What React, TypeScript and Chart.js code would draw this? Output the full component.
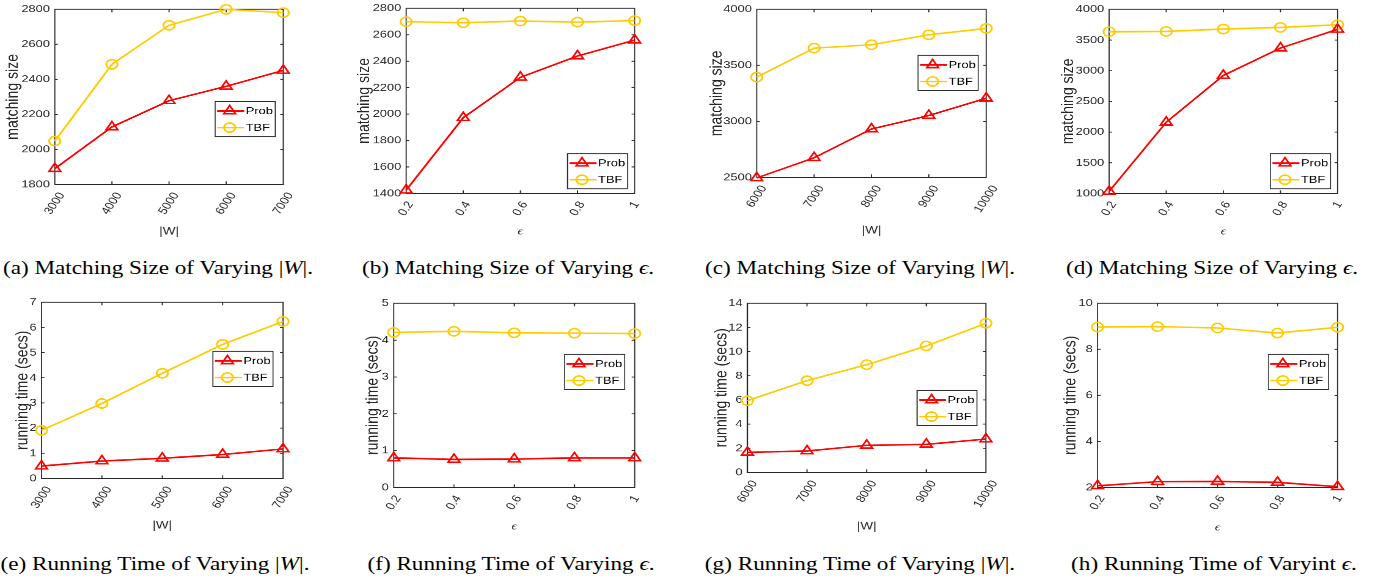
import React, { useEffect, useRef } from 'react';
import { Chart, registerables } from 'chart.js';

Chart.register(...registerables);

// ---------------- data ----------------
const wLabelsSmall = ['3000', '4000', '5000', '6000', '7000'];
const wLabelsLarge = ['6000', '7000', '8000', '9000', '10000'];
const epsLabels = ['0.2', '0.4', '0.6', '0.8', '1'];

const probA = [1890, 2128, 2278, 2360, 2451];
const tbfA = [2048, 2486, 2709, 2800, 2781];
const probB = [1425, 1973, 2278, 2439, 2560];
const tbfB = [2699, 2691, 2704, 2696, 2707];
const probC = [2495, 2675, 2932, 3052, 3207];
const tbfC = [3395, 3654, 3684, 3773, 3830];
const probD = [1033, 2160, 2922, 3369, 3674];
const tbfD = [3635, 3640, 3679, 3706, 3749];
const probE = [0.49, 0.69, 0.8, 0.95, 1.17];
const tbfE = [1.91, 2.98, 4.18, 5.33, 6.24];
const probF = [0.8, 0.76, 0.77, 0.8, 0.8];
const tbfF = [4.21, 4.24, 4.2, 4.19, 4.18];
const probG = [1.66, 1.77, 2.24, 2.32, 2.76];
const tbfG = [5.94, 7.6, 8.92, 10.47, 12.35];
const probH = [2.07, 2.25, 2.26, 2.22, 2.03];
const tbfH = [8.97, 8.99, 8.93, 8.71, 8.96];

const seriesNames = ['Prob', 'TBF'];

// ---------------- style / layout ----------------
const S = 1.22; // horizontal stretch of the reference
const SANS = "'Liberation Sans', Arial, sans-serif";
const SERIF = "'Liberation Serif', 'DejaVu Serif', serif";
const RED = '#ff0000';
const YELLOW = '#ffcc00';
const AXIS = '#262626';
const TICK_SIZE = 10.5;
const YTITLE_SIZE = 14;
const XTITLE_SIZE = 11;
const LEGEND_SIZE = 10.5;
const LH = 1.2;
const PAD_TOP = 10;
const PAD_RIGHT = 14;
const XLABEL_GAP = 7;

type PanelDef = {
  labels: string[];
  prob: number[];
  tbf: number[];
  yMin: number;
  yMax: number;
  yStep: number;
  yTitle: string;
  eps: boolean;
  plot: number[];
  yTitleX: number;
  xTitleY: number;
  legendAt: number[];
  letter: string;
  capText: string;
  cap: number[];
};

const panels: PanelDef[] = [
  { labels: wLabelsSmall, prob: probA, tbf: tbfA, yMin: 1800, yMax: 2800, yStep: 200, yTitle: 'matching size', eps: false,
    plot: [55, 283, 9, 184], yTitleX: 13, xTitleY: 231, legendAt: [215, 101], letter: 'a', capText: 'Matching Size of Varying', cap: [158, 267] },
  { labels: epsLabels, prob: probB, tbf: tbfB, yMin: 1400, yMax: 2800, yStep: 200, yTitle: 'matching size', eps: true,
    plot: [406, 634, 8, 193], yTitleX: 364, xTitleY: 231, legendAt: [567, 153], letter: 'b', capText: 'Matching Size of Varying', cap: [508, 267] },
  { labels: wLabelsLarge, prob: probC, tbf: tbfC, yMin: 2500, yMax: 4000, yStep: 500, yTitle: 'matching size', eps: false,
    plot: [757, 986, 9, 177], yTitleX: 717, xTitleY: 230, legendAt: [918, 55], letter: 'c', capText: 'Matching Size of Varying', cap: [860, 267] },
  { labels: epsLabels, prob: probD, tbf: tbfD, yMin: 1000, yMax: 4000, yStep: 500, yTitle: 'matching size', eps: true,
    plot: [1109, 1337, 9, 193], yTitleX: 1068, xTitleY: 231, legendAt: [1270, 153], letter: 'd', capText: 'Matching Size of Varying', cap: [1212, 267] },
  { labels: wLabelsSmall, prob: probE, tbf: tbfE, yMin: 0, yMax: 7, yStep: 1, yTitle: 'running time (secs)', eps: false,
    plot: [42, 283, 302, 478], yTitleX: 23, xTitleY: 525, legendAt: [213, 351], letter: 'e', capText: 'Running Time of Varying', cap: [155, 563] },
  { labels: epsLabels, prob: probF, tbf: tbfF, yMin: 0, yMax: 5, yStep: 1, yTitle: 'running time (secs)', eps: true,
    plot: [394, 634, 303, 487], yTitleX: 373, xTitleY: 526, legendAt: [564, 354], letter: 'f', capText: 'Running Time of Varying', cap: [511, 563] },
  { labels: wLabelsLarge, prob: probG, tbf: tbfG, yMin: 0, yMax: 14, yStep: 2, yTitle: 'running time (secs)', eps: false,
    plot: [747, 986, 303, 472], yTitleX: 721, xTitleY: 526, legendAt: [917, 390], letter: 'g', capText: 'Running Time of Varying', cap: [860, 563] },
  { labels: epsLabels, prob: probH, tbf: tbfH, yMin: 2, yMax: 10, yStep: 2, yTitle: 'running time (secs)', eps: true,
    plot: [1098, 1337, 303, 487], yTitleX: 1071, xTitleY: 527, legendAt: [1268, 354], letter: 'h', capText: 'Running Time of Varyint', cap: [1214, 563] },
];

function drawMarker(ctx: CanvasRenderingContext2D, style: string, x: number, y: number, r: number) {
  ctx.beginPath();
  if (style === 'triangle') {
    let a = 0;
    ctx.moveTo(x + Math.sin(a) * r, y - Math.cos(a) * r);
    a += (2 * Math.PI) / 3;
    ctx.lineTo(x + Math.sin(a) * r, y - Math.cos(a) * r);
    a += (2 * Math.PI) / 3;
    ctx.lineTo(x + Math.sin(a) * r, y - Math.cos(a) * r);
    ctx.closePath();
  } else {
    ctx.arc(x, y, r, 0, Math.PI * 2);
  }
  ctx.stroke();
}

function Panel({ p }: { p: PanelDef }) {
  const ref = useRef<HTMLCanvasElement | null>(null);
  const [L, R, T, B] = p.plot;
  const left = p.yTitleX / S - (YTITLE_SIZE * LH) / 2;
  const yW = L / S - left;
  const width = R / S + PAD_RIGHT - left;
  const top = T - PAD_TOP;
  const bottom = p.xTitleY + (XTITLE_SIZE * LH) / 2;
  const xH = bottom - B;
  const height = bottom - top;

  useEffect(() => {
    if (!ref.current) return;
    const legDx = (p.legendAt[0] - L) / S;
    const legDy = p.legendAt[1] - T;
    const legW = 60 / S;
    const legH = 35;

    const framePlugin = {
      id: 'matlabFrame',
      beforeDatasetsDraw(chart: any) {
        const { ctx, chartArea } = chart;
        const { left: l, right: r, top: t, bottom: b } = chartArea;
        const xs = chart.scales.x;
        const ys = chart.scales.y;
        ctx.save();
        ctx.strokeStyle = AXIS;
        ctx.lineWidth = 0.9;
        ctx.beginPath();
        ctx.rect(l, t, r - l, b - t);
        const th = 3 / S;
        const tv = 3;
        ys.ticks.forEach((_t: any, i: number) => {
          const y = ys.getPixelForTick(i);
          ctx.moveTo(l, y); ctx.lineTo(l + th, y);
          ctx.moveTo(r, y); ctx.lineTo(r - th, y);
        });
        xs.ticks.forEach((_t: any, i: number) => {
          const x = xs.getPixelForTick(i);
          ctx.moveTo(x, b); ctx.lineTo(x, b - tv);
          ctx.moveTo(x, t); ctx.lineTo(x, t + tv);
        });
        ctx.stroke();
        ctx.restore();
      },
    };

    const xTickPlugin = {
      id: 'rotatedXTicks',
      afterDraw(chart: any) {
        const { ctx, chartArea } = chart;
        const xs = chart.scales.x;
        const ang = Math.PI / 3;
        ctx.save();
        ctx.font = `${TICK_SIZE}px ${SANS}`;
        ctx.fillStyle = AXIS;
        ctx.textAlign = 'center';
        ctx.textBaseline = 'middle';
        xs.ticks.forEach((t: any, i: number) => {
          const label = String(xs.getLabelForValue(t.value));
          const px = xs.getPixelForTick(i);
          const w = ctx.measureText(label).width;
          const h = TICK_SIZE * 0.75;
          const ext = w * Math.sin(ang) + h * Math.cos(ang);
          const cy = chartArea.bottom + XLABEL_GAP + ext / 2;
          ctx.save();
          ctx.translate(px, cy);
          ctx.rotate(-ang);
          ctx.fillText(label, 0, 0);
          ctx.restore();
        });
        ctx.restore();
      },
    };

    const legendPlugin = {
      id: 'insideLegend',
      afterDatasetsDraw(chart: any) {
        const { ctx, chartArea } = chart;
        const x0 = chartArea.left + legDx;
        const y0 = chartArea.top + legDy;
        ctx.save();
        ctx.fillStyle = '#ffffff';
        ctx.fillRect(x0, y0, legW, legH);
        ctx.strokeStyle = AXIS;
        ctx.lineWidth = 0.8;
        ctx.strokeRect(x0, y0, legW, legH);
        chart.data.datasets.forEach((ds: any, i: number) => {
          const cy = y0 + (i === 0 ? 9.5 : 26);
          ctx.strokeStyle = ds.borderColor;
          ctx.lineWidth = ds.borderWidth;
          ctx.beginPath();
          ctx.moveTo(x0 + 2 / S, cy);
          ctx.lineTo(x0 + 29 / S, cy);
          ctx.stroke();
          ctx.lineWidth = ds.pointBorderWidth;
          drawMarker(ctx, ds.pointStyle, x0 + 14.5 / S, cy, ds.pointRadius);
          ctx.fillStyle = '#000000';
          ctx.font = `${LEGEND_SIZE}px ${SANS}`;
          ctx.textAlign = 'left';
          ctx.textBaseline = 'middle';
          ctx.fillText(ds.label, x0 + 30.5 / S, cy + 0.5);
        });
        ctx.restore();
      },
    };

    const chart = new Chart(ref.current, {
      type: 'line',
      data: {
        labels: p.labels,
        datasets: [
          {
            label: seriesNames[0], data: p.prob, borderColor: RED, backgroundColor: 'rgba(0,0,0,0)',
            borderWidth: 1.6, pointStyle: 'triangle', pointRadius: 5.5, pointBorderWidth: 1.5,
            pointBorderColor: RED, pointBackgroundColor: 'rgba(0,0,0,0)', tension: 0, clip: false,
          } as any,
          {
            label: seriesNames[1], data: p.tbf, borderColor: YELLOW, backgroundColor: 'rgba(0,0,0,0)',
            borderWidth: 1.6, pointStyle: 'circle', pointRadius: 4.6, pointBorderWidth: 1.5,
            pointBorderColor: YELLOW, pointBackgroundColor: 'rgba(0,0,0,0)', tension: 0, clip: false,
          } as any,
        ],
      },
      options: {
        animation: false,
        responsive: true,
        maintainAspectRatio: false,
        devicePixelRatio: 2,
        events: [],
        layout: { padding: { top: PAD_TOP, right: PAD_RIGHT, left: 0, bottom: 0 } },
        plugins: { legend: { display: false }, tooltip: { enabled: false } },
        scales: {
          x: {
            type: 'category',
            offset: false,
            grid: { display: false, drawTicks: false },
            border: { display: false },
            ticks: { display: false, autoSkip: false },
            title: {
              display: true,
              text: p.eps ? 'ϵ' : '|W|',
              color: AXIS,
              padding: 0,
              font: p.eps
                ? { family: SERIF, size: XTITLE_SIZE, style: 'italic', lineHeight: LH }
                : { family: SANS, size: XTITLE_SIZE, lineHeight: LH },
            },
            afterFit: (sc: any) => { sc.height = xH; },
          },
          y: {
            type: 'linear',
            min: p.yMin,
            max: p.yMax,
            grid: { display: false, drawTicks: false },
            border: { display: false },
            ticks: {
              stepSize: p.yStep,
              color: AXIS,
              padding: 4,
              font: { family: SANS, size: TICK_SIZE },
              callback: (v: any) => String(v),
            },
            title: {
              display: true,
              text: p.yTitle,
              color: AXIS,
              padding: 0,
              font: { family: SANS, size: YTITLE_SIZE, lineHeight: LH },
            },
            afterFit: (sc: any) => { sc.width = yW; },
          },
        },
      } as any,
      plugins: [framePlugin, xTickPlugin, legendPlugin],
    });
    return () => chart.destroy();
  }, []);

  return (
    <div style={{ position: 'absolute', left, top, width, height }}>
      <canvas ref={ref} />
    </div>
  );
}

function Caption({ p }: { p: PanelDef }) {
  return (
    <div
      style={{
        position: 'absolute',
        left: p.cap[0] / S,
        top: p.cap[1],
        transform: 'translate(-50%, -50%)',
        whiteSpace: 'nowrap',
        fontFamily: SERIF,
        fontSize: 19,
        color: '#000',
        lineHeight: 1,
      }}
    >
      ({p.letter}) {p.capText}{' '}
      {p.eps ? <i>ϵ</i> : <span>|<i>W</i>|</span>}.
    </div>
  );
}

export default function App() {
  return (
    <div
      style={{
        position: 'fixed',
        left: 0,
        top: 0,
        width: 1375 / S,
        height: 580,
        background: '#fff',
        transform: `scaleX(${S})`,
        transformOrigin: '0 0',
        overflow: 'hidden',
      }}
    >
      {panels.map((p) => (
        <Panel key={p.letter} p={p} />
      ))}
      {panels.map((p) => (
        <Caption key={'c' + p.letter} p={p} />
      ))}
    </div>
  );
}
